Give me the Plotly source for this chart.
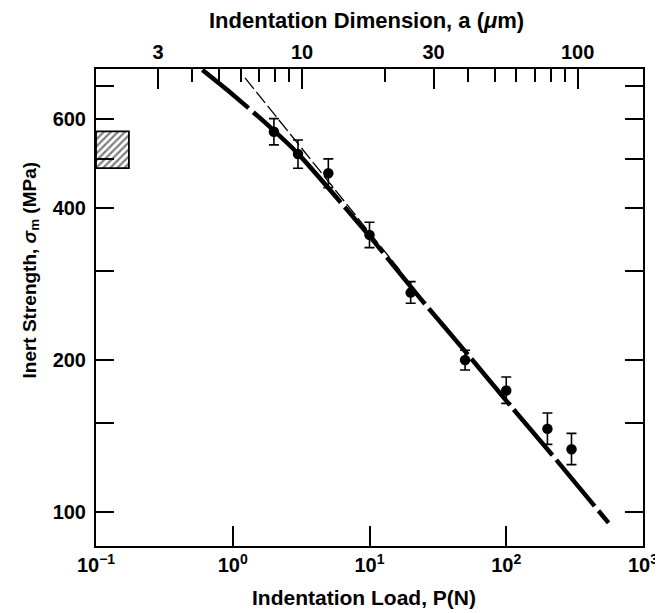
import plotly.graph_objects as go

# ---- data ----
load_P = [2, 3, 5, 10, 20, 50, 100, 200, 300]            # N
strength = [567, 512, 469, 354, 272, 200, 174, 146, 133]  # MPa
err_plus = [35, 34, 32, 21, 14, 9, 11, 11, 10]
err_minus = [33, 32, 30, 20, 13, 9, 10, 10, 9]

curve_P = [0.6, 0.95, 1.8, 3, 10, 23.5, 54, 110, 200, 560]
curve_sigma = [752, 680, 585, 513, 352, 265, 203, 161, 133, 95]

asym_P = [1.23, 16.7]
asym_sigma = [725, 301]

box_P = [0.1, 0.174]
box_sigma = [480, 568]

x_tickvals = [0.1, 1, 10, 100, 1000]
x_ticktext = ["10<sup>\u22121</sup>", "10<sup>0</sup>", "10<sup>1</sup>", "10<sup>2</sup>", "10<sup>3</sup>"]
y_tickvals = [100, 200, 400, 600]
y_minor = [150, 300, 500, 700]
a_tickvals = [3, 10, 30, 100]
a_minor = [4, 5, 6, 7, 8, 9, 20, 40, 50, 60, 70, 80, 90]

FONT = "Liberation Sans"
BLACK = "black"

fig = go.Figure()

# hatched box
bx = [box_P[0], box_P[1], box_P[1], box_P[0], box_P[0]]
by = [box_sigma[0], box_sigma[0], box_sigma[1], box_sigma[1], box_sigma[0]]
fig.add_trace(go.Scatter(
    x=bx, y=by, mode="lines", fill="toself",
    fillcolor="white",
    fillpattern=dict(shape="/", fgcolor=BLACK, bgcolor="white", size=5, solidity=0.45),
    line=dict(color=BLACK, width=1.8), showlegend=False, hoverinfo="skip"))

# thin dashed asymptote
fig.add_trace(go.Scatter(
    x=asym_P, y=asym_sigma, mode="lines",
    line=dict(color=BLACK, width=1.3, dash="14px,4px"), showlegend=False))

# thick dashed curve
fig.add_trace(go.Scatter(
    x=curve_P, y=curve_sigma, mode="lines",
    line=dict(color=BLACK, width=4.5, dash="60px,6px", shape="spline", smoothing=0.6),
    showlegend=False))

# data points
fig.add_trace(go.Scatter(
    x=load_P, y=strength, mode="markers",
    marker=dict(color=BLACK, size=10.5),
    error_y=dict(type="data", array=err_plus, arrayminus=err_minus,
                 color=BLACK, thickness=1.6, width=5),
    showlegend=False))

# dummy trace on top axis
fig.add_trace(go.Scatter(x=[10], y=[300], xaxis="x2", mode="markers",
                         marker=dict(opacity=0), showlegend=False, hoverinfo="skip"))

tickfont = dict(family=FONT, size=20, color=BLACK, weight="bold")

# page body adds an 8px offset, so the figure is 8px smaller and margins compensate
fig.update_layout(
    width=655, height=605,
    margin=dict(l=88, r=20, t=61, b=67),
    paper_bgcolor="white", plot_bgcolor="white",
    font=dict(family=FONT, color=BLACK),
    xaxis=dict(
        type="log", range=[-1, 3], automargin=False,
        tickvals=x_tickvals, ticktext=x_ticktext,
        ticks="inside", ticklen=20, tickwidth=1.5, tickcolor=BLACK,
        showline=True, linewidth=2, linecolor=BLACK, mirror=True,
        showgrid=False, zeroline=False, tickfont=tickfont,
    ),
    xaxis2=dict(
        type="log", range=[0.252, 2.2375], overlaying="x", side="top", automargin=False,
        tickvals=a_tickvals, ticktext=[str(v) for v in a_tickvals],
        ticks="inside", ticklen=20, tickwidth=1.5, tickcolor=BLACK,
        minor=dict(tickvals=a_minor, ticks="inside", ticklen=13, tickwidth=1.5, tickcolor=BLACK, showgrid=False),
        showline=True, linewidth=2, linecolor=BLACK,
        showgrid=False, zeroline=False, tickfont=tickfont,
    ),
    yaxis=dict(
        type="log", range=[1.932, 2.878], automargin=False,
        tickvals=y_tickvals, ticktext=[str(v) for v in y_tickvals],
        ticks="inside", ticklen=18, tickwidth=1.5, tickcolor=BLACK,
        minor=dict(tickvals=y_minor, ticks="inside", ticklen=12, tickwidth=1.5, tickcolor=BLACK, showgrid=False),
        showline=True, linewidth=2, linecolor=BLACK, mirror="allticks",
        showgrid=False, zeroline=False, tickfont=tickfont, ticklabelstandoff=4,
    ),
    annotations=[
        dict(text="Indentation Dimension, a (<i>\u03bc</i>m)", xref="paper", yref="paper",
             x=0.495, y=1.0, yshift=49, xanchor="center", yanchor="middle", showarrow=False,
             font=dict(family=FONT, size=22, weight="bold", color=BLACK)),
        dict(text="Indentation Load, P(N)", xref="paper", yref="paper",
             x=0.49, y=0, yshift=-51, xanchor="center", yanchor="middle", showarrow=False,
             font=dict(family=FONT, size=21, weight="bold", color=BLACK)),
        dict(text="Inert Strength, <i>\u03c3</i><sub>m</sub> (MPa)", xref="paper", yref="paper",
             x=0, xshift=-66, y=0.5, yshift=37, xanchor="center", yanchor="middle", textangle=-90,
             showarrow=False, font=dict(family=FONT, size=19, weight="bold", color=BLACK)),
        dict(text="F99", xref="x", yref="y", x=2.52, y=600, xanchor="center", yanchor="middle",
             showarrow=False, font=dict(family=FONT, size=20, weight="bold", color=BLACK)),
    ],
)

fig.write_html("out.html")
